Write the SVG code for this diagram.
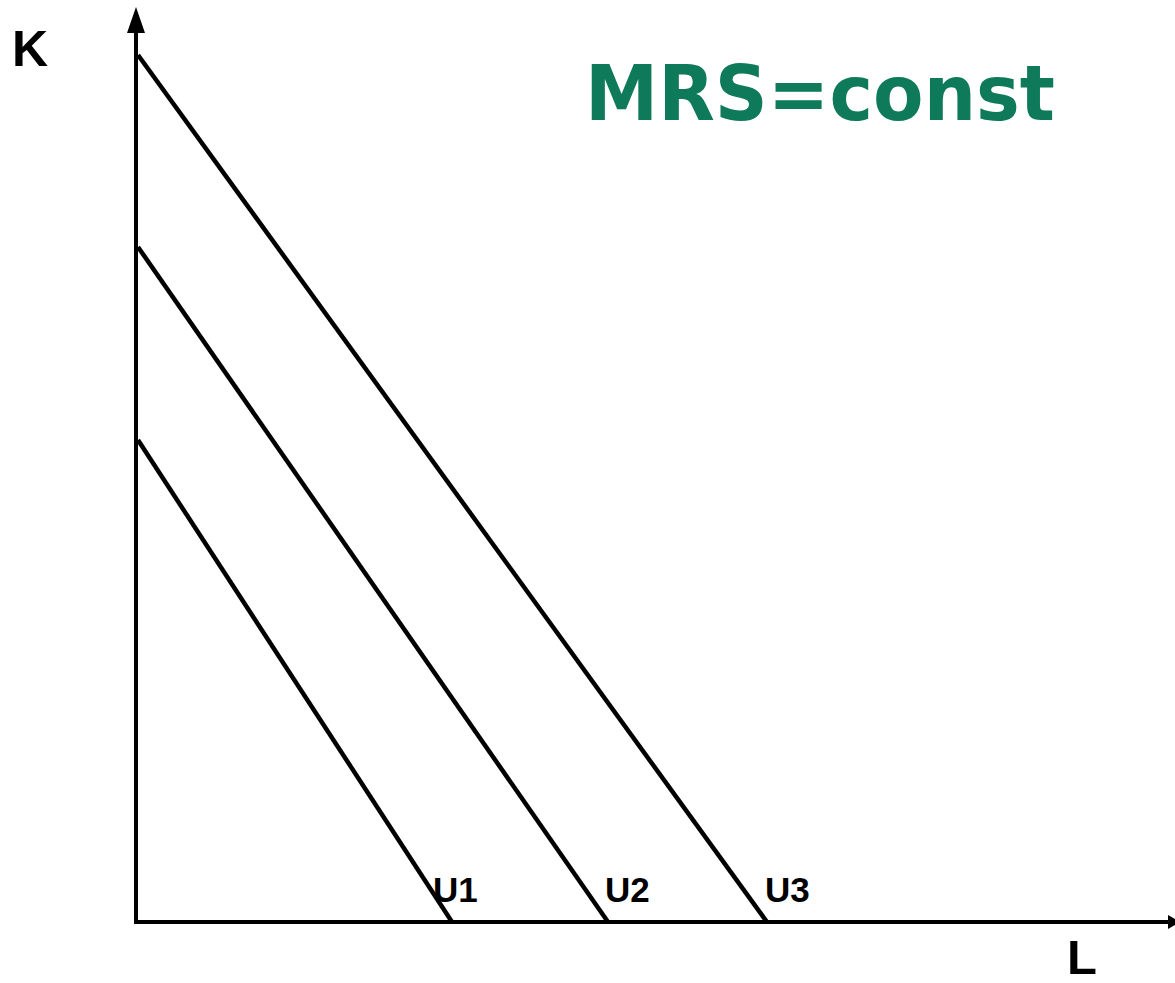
<svg xmlns="http://www.w3.org/2000/svg" width="1175" height="983" viewBox="0 0 1175 983">
<style>
.ax{stroke:#000;stroke-width:4;fill:none}
.ln{stroke:#000;stroke-width:4.5;fill:none}
.lbl{font-family:"Liberation Sans",Arial,sans-serif;font-weight:bold;fill:#000}
.ttl{font-family:"DejaVu Sans",Verdana,sans-serif;font-weight:bold;fill:#0f7a5a}
</style>
<rect width="1175" height="983" fill="#fff"/>
<g id="connectors">
<line class="ax" x1="136" y1="924" x2="136" y2="30"/>
<path d="M127,33 L136,7 L145,33 z" fill="#000"/>
<line class="ax" x1="134" y1="922" x2="1170" y2="922"/>
<path d="M1168,915 L1180,922 L1168,929 z" fill="#000"/>
<line class="ln" x1="138" y1="55" x2="767" y2="922"/>
<line class="ln" x1="138" y1="247" x2="608" y2="922"/>
<line class="ln" x1="138" y1="440" x2="452" y2="922"/>
</g>
<g id="K"><text class="lbl" x="12" y="66" font-size="50">K</text></g>
<g id="L"><text class="lbl" x="1067" y="974" font-size="49">L</text></g>
<g id="U1"><text class="lbl" x="433" y="902" font-size="35">U1</text></g>
<g id="U2"><text class="lbl" x="605" y="902" font-size="35">U2</text></g>
<g id="U3"><text class="lbl" x="765" y="902" font-size="35">U3</text></g>
<g id="title"><text class="ttl" x="585" y="120" font-size="76" textLength="470" lengthAdjust="spacingAndGlyphs">MRS=const</text></g>
</svg>
